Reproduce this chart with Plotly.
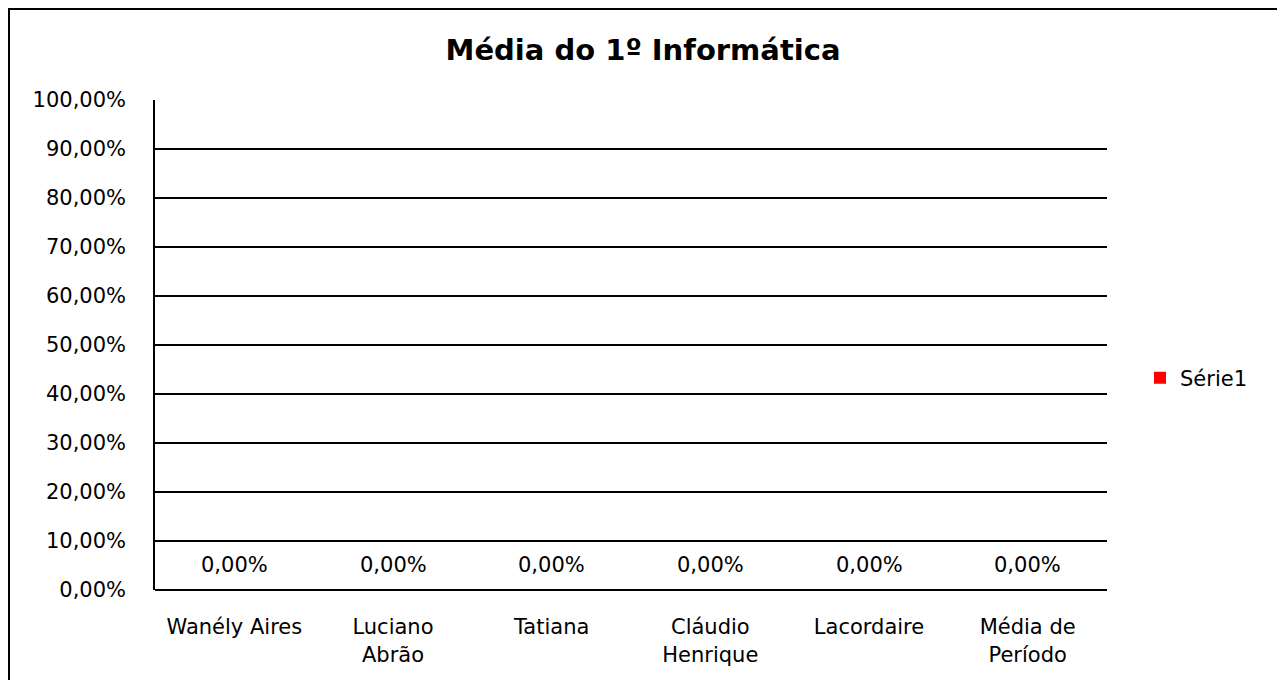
import plotly.graph_objects as go

categories = ["Wanély Aires", "Luciano<br>Abrão", "Tatiana", "Cláudio<br>Henrique", "Lacordaire", "Média de<br>Período"]
values = [0, 0, 0, 0, 0, 0]
series_name = "Série1"
y_ticks = [i / 10 for i in range(11)]

# page has an 8px body margin; positions below are in figure pixels
OFF = 8
W, H = 1285 - OFF, 680 - OFF
L, T = 155 - OFF, 100 - OFF
R, B = W - (1107 - OFF), H - (590 - OFF)
pw, ph = W - L - R, H - T - B

def px_x(x):
    return (x - OFF - L) / pw

def px_y(y):
    return (H - B - (y - OFF)) / ph

font_family = "DejaVu Sans"
fs = 21

fig = go.Figure()
fig.add_trace(go.Bar(
    x=categories, y=values, name=series_name,
    marker=dict(color="#FF0000", line=dict(width=0)), showlegend=True,
))

for c, v in zip(categories, values):
    fig.add_annotation(
        x=c, y=v, xref="x", yref="y", text=f"{v*100:.2f}%".replace(".", ","),
        showarrow=False, yshift=25, font=dict(family=font_family, size=fs, color="#000"),
    )

fig.add_shape(type="rect", xref="paper", yref="paper",
              x0=px_x(OFF + 1), x1=px_x(1282), y0=px_y(OFF + 1), y1=px_y(684),
              line=dict(color="#000", width=2), fillcolor="rgba(0,0,0,0)", layer="below")

fig.update_layout(
    width=W, height=H,
    margin=dict(l=L, r=R, t=T, b=B, pad=0),
    paper_bgcolor="white", plot_bgcolor="white",
    separators=",.",
    font=dict(family=font_family, size=fs, color="#000"),
    title=dict(text="<b>Média do 1º Informática</b>", x=(643 - OFF) / W, xref="container", xanchor="center",
               y=1 - (50 - OFF) / H, yref="container", yanchor="middle",
               font=dict(family=font_family, size=29, color="#000")),
    showlegend=True,
    legend=dict(x=px_x(1140), y=px_y(378), xanchor="left", yanchor="middle",
                font=dict(family=font_family, size=fs, color="#000"),
                itemwidth=30, bgcolor="rgba(0,0,0,0)"),
    bargap=0.5,
)
fig.update_xaxes(showgrid=False, showline=False, ticks="outside", ticklen=0, tickangle=0,
                 ticklabelstandoff=18,
                 tickfont=dict(family=font_family, size=fs, color="#000"))
fig.update_yaxes(range=[0, 1], tickvals=y_ticks, tickformat=".2%",
                 showgrid=True, gridcolor="#000", gridwidth=1.5,
                 zeroline=True, zerolinecolor="#000", zerolinewidth=1.5,
                 showline=True, linecolor="#000", linewidth=1.5,
                 ticks="outside", ticklen=0, ticklabelstandoff=23,
                 tickfont=dict(family=font_family, size=fs, color="#000"))

fig.write_html("out.html")
